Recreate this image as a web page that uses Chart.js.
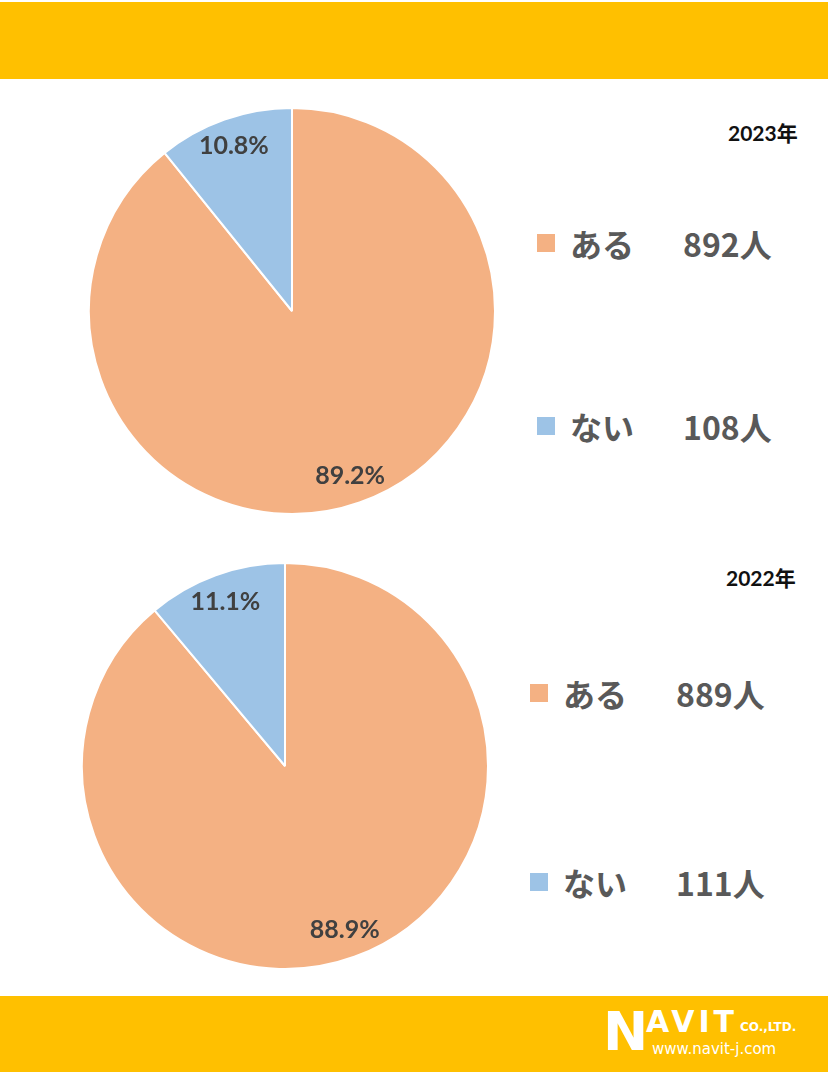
<!DOCTYPE html>
<html>
<head>
<meta charset="utf-8">
<script src="https://cdn.jsdelivr.net/npm/chart.js@4"></script>
<style>
  body { margin: 0; width: 828px; height: 1075px; background: #fff; position: relative; overflow: hidden; font-family: "Noto Sans CJK JP", sans-serif; }
  .band { position: absolute; left: 0; width: 828px; background: #FFC000; }
  .box { position: absolute; }
  .year { position: absolute; font-weight: 700; font-size: 21px; color: #111; font-family: Lato, "Noto Sans CJK JP", sans-serif; }
  .leg { position: absolute; height: 44px; line-height: 44px; font-size: 32px; font-weight: 700; color: #595959; white-space: nowrap; }
  .leg i { position: absolute; left: 0; top: 13px; width: 18px; height: 18px; }
  .leg .lab { position: absolute; left: 33px; }
  .leg .num { position: absolute; left: 146px; }
  .logo { position: absolute; color: #fff; font-family: "DejaVu Sans", sans-serif; font-weight: 700; }
</style>
</head>
<body>
<div class="band" style="top:2px;height:77px"></div>
<div class="band" style="top:996px;height:76px"></div>

<div class="box" style="left:88px;top:107px;width:408px;height:408px"><canvas id="pie2023"></canvas></div>
<div class="box" style="left:81px;top:562px;width:408px;height:408px"><canvas id="pie2022"></canvas></div>

<div class="year" style="left:728px;top:117px">2023年</div>
<div class="year" style="left:726px;top:562px">2022年</div>
<div id="legends"></div>

<div class="logo" style="left:603px;top:1002px;font-size:54px;line-height:60px">N</div>
<div class="logo" style="left:646px;top:1004px;font-size:30px;letter-spacing:4px">AVIT</div>
<div class="logo" style="left:740px;top:1020px;font-size:12px">CO.,LTD.</div>
<div class="logo" style="left:652px;top:1040px;font-size:15px;font-weight:400">www.navit-j.com</div>

<script>
const categories = ['ある', 'ない'];
const counts2023 = [892, 108];
const counts2022 = [889, 111];
const percent2023 = ['89.2%', '10.8%'];
const percent2022 = ['88.9%', '11.1%'];
const sliceColors = ['#F4B183', '#9DC3E6'];

// ラベルをスライスの中に描く
const pctLabels = {
  id: 'pctLabels',
  afterDatasetsDraw(chart, args, opts) {
    const ctx = chart.ctx;
    const meta = chart.getDatasetMeta(0);
    ctx.save();
    ctx.font = 'bold 25px Lato, "Open Sans", sans-serif';
    ctx.fillStyle = '#404040';
    ctx.textAlign = 'center';
    ctx.textBaseline = 'middle';
    meta.data.forEach((arc, i) => {
      const p = arc.getProps(['x', 'y', 'startAngle', 'endAngle', 'outerRadius'], true);
      const mid = (p.startAngle + p.endAngle) / 2;
      const r = p.outerRadius * 0.86;
      ctx.fillText(opts.texts[i], p.x + Math.cos(mid) * r, p.y + Math.sin(mid) * r);
    });
    ctx.restore();
  }
};

function makePie(id, counts, texts) {
  const ctx = document.getElementById(id).getContext('2d');
  new Chart(ctx, {
    type: 'pie',
    data: {
      labels: categories,
      datasets: [{
        data: counts,
        backgroundColor: sliceColors,
        borderColor: '#fff',
        borderWidth: 2
      }]
    },
    options: {
      responsive: true,
      maintainAspectRatio: false,
      animation: false,
      layout: { padding: 0 },
      plugins: {
        legend: { display: false },
        tooltip: { enabled: false },
        pctLabels: { texts: texts }
      }
    },
    plugins: [pctLabels]
  });
}

makePie('pie2023', counts2023, percent2023);
makePie('pie2022', counts2022, percent2022);

// 凡例
function makeLegend(left, tops, counts) {
  const wrap = document.getElementById('legends');
  categories.forEach((c, i) => {
    const d = document.createElement('div');
    d.className = 'leg';
    d.style.left = left + 'px';
    d.style.top = (tops[i] - 22) + 'px';
    d.innerHTML = '<i style="background:' + sliceColors[i] + '"></i><span class="lab">' + c +
      '</span><span class="num">' + counts[i] + '人</span>';
    wrap.appendChild(d);
  });
}
makeLegend(537, [243, 426], counts2023);
makeLegend(530, [693, 882], counts2022);
</script>
</body>
</html>
